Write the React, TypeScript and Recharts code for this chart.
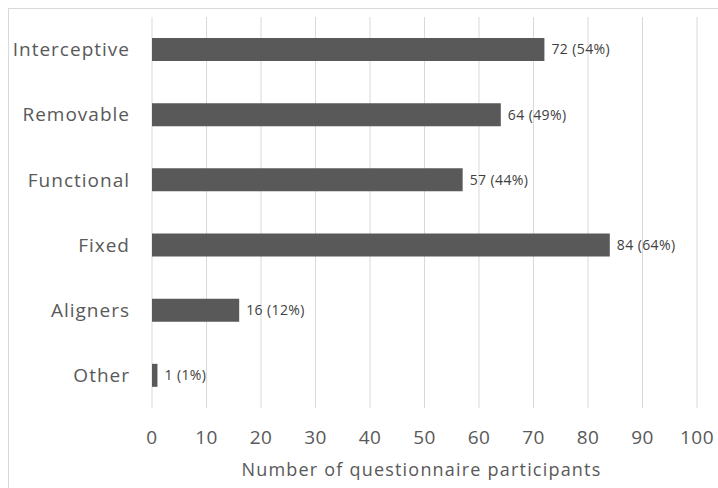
import { BarChart, Bar, XAxis, YAxis, CartesianGrid, LabelList } from "recharts";

const categories = ["Interceptive", "Removable", "Functional", "Fixed", "Aligners", "Other"];
const counts = [72, 64, 57, 84, 16, 1];
const percents = [54, 49, 44, 64, 12, 1];
const xTicks = [0, 10, 20, 30, 40, 50, 60, 70, 80, 90, 100];

const data = categories.map((name, i) => ({
  name,
  count: counts[i],
  label: `${counts[i]} (${percents[i]}%)`,
}));

const FONT = "'Open Sans', 'Noto Sans', sans-serif";

export default function App() {
  return (
    <>
      <style>{"html, body { margin: 0; overflow: hidden; background: #fff; }"}</style>
      <div style={{ width: 718, height: 488, paddingTop: 8, paddingLeft: 8, boxSizing: "border-box" }}>
        <div
          style={{
            width: 710,
            height: 480,
            boxSizing: "border-box",
            borderTop: "1px solid #d9d9d9",
            borderLeft: "1px solid #d9d9d9",
            background: "#fff",
            fontFamily: FONT,
          }}
        >
          <BarChart
            width={709}
            height={479}
            data={data}
            layout="vertical"
            margin={{ top: 8, right: 21, left: 0, bottom: 0 }}
            barCategoryGap={21}
          >
            <CartesianGrid horizontal={false} stroke="#d9d9d9" />
            <XAxis
              type="number"
              domain={[0, 100]}
              ticks={xTicks}
              axisLine={false}
              tickLine={false}
              tickSize={0}
              tickMargin={23}
              height={80}
              tick={{ fill: "#595959", fontSize: 19, fontFamily: FONT, letterSpacing: 0.5 }}
              label={{
                value: "Number of questionnaire participants",
                position: "insideBottom",
                offset: 12,
                dx: -3,
                fill: "#595959",
                fontSize: 18,
                letterSpacing: 1.2,
                fontFamily: FONT,
              }}
            />
            <YAxis
              type="category"
              dataKey="name"
              width={143}
              axisLine={false}
              tickLine={false}
              tickSize={0}
              tickMargin={22}
              tick={{ fill: "#595959", fontSize: 19, fontFamily: FONT, letterSpacing: 1 }}
            />
            <Bar dataKey="count" fill="#595959" barSize={23} isAnimationActive={false}>
              <LabelList
                dataKey="label"
                position="right"
                offset={7}
                fill="#404040"
                fontSize={14}
                letterSpacing={0.4}
                fontFamily={FONT}
              />
            </Bar>
          </BarChart>
        </div>
      </div>
    </>
  );
}
